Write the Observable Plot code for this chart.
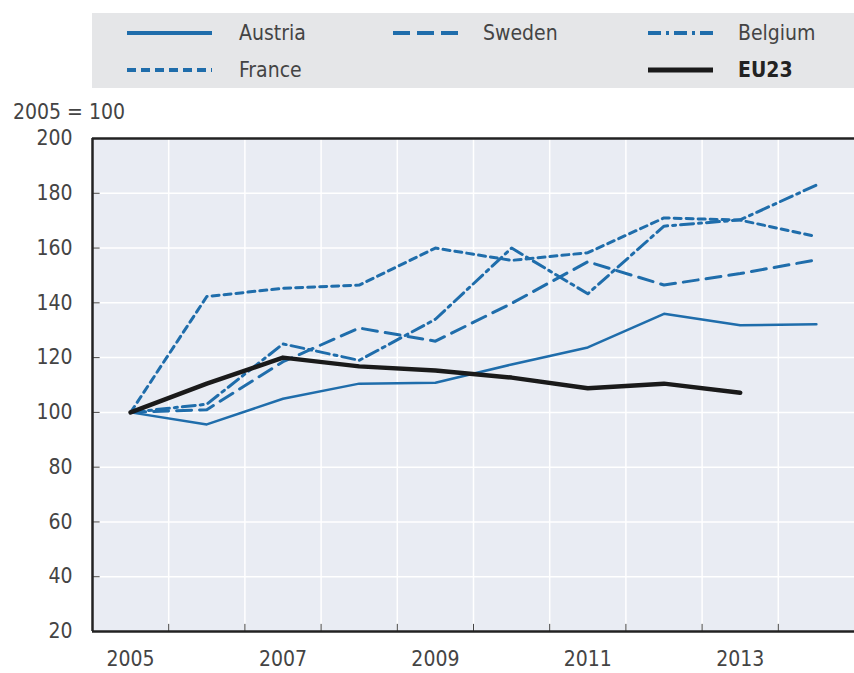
<!DOCTYPE html>
<html>
<head>
<meta charset="utf-8">
<script src="https://cdn.jsdelivr.net/npm/d3@7"></script>
<script src="https://cdn.jsdelivr.net/npm/@observablehq/plot@0.6"></script>
<style>
  html, body { margin: 0; padding: 0; background: #fff; }
  #wrap { position: relative; width: 854px; height: 673px; overflow: hidden;
          font-family: "DejaVu Sans Condensed", "Liberation Sans Narrow", sans-serif; }
  #legend { position: absolute; left: 92px; top: 13px; width: 762px; height: 75px; background: #e5e6e8; }
  .item { position: absolute; display: flex; align-items: center; height: 30px; }
  .item svg { display: block; }
  .item span { font-size: 21px; color: #444; margin-left: 27px; }
  #unit { position: absolute; left: 13px; top: 100px; font-size: 21px; line-height: 24px; color: #444; }
  #chart { position: absolute; left: 0; top: 120px; }
</style>
</head>
<body>
<div id="wrap">
  <div id="legend"></div>
  <div id="unit">2005 = 100</div>
  <div id="chart"></div>
</div>
<script>
const years   = [2005, 2006, 2007, 2008, 2009, 2010, 2011, 2012, 2013, 2014];
const austria = [100, 95.6, 105, 110.5, 110.8, 117.5, 123.7, 136, 131.8, 132.2];
const sweden  = [100, 101, 118.5, 130.8, 126, 139.8, 155, 146.5, 150.7, 155.7];
const belgium = [100, 103, 125, 119, 134, 160, 143.3, 168, 170.3, 183];
const france  = [100, 142.3, 145.3, 146.5, 160, 155.5, 158.3, 171, 170.2, 164.2];
const eu23    = [100, 110.5, 120, 116.8, 115.3, 112.7, 108.8, 110.5, 107.2];

const yTicks = [20, 40, 60, 80, 100, 120, 140, 160, 180, 200];
const xTickLabels = [2005, 2007, 2009, 2011, 2013];

const blue = "#1f6dab";
const series = [
  {name: "Austria", values: austria, stroke: blue, width: 2.5, dash: null},
  {name: "Sweden",  values: sweden,  stroke: blue, width: 3, dash: "15,8"},
  {name: "Belgium", values: belgium, stroke: blue, width: 3, dash: "13,5,3,5"},
  {name: "France",  values: france,  stroke: blue, width: 3, dash: "7,5"},
  {name: "EU23",    values: eu23,    stroke: "#1a1a1a", width: 4.5, dash: null}
];

const toRows = s => s.values.map((v, i) => ({year: years[i], value: v}));
const gridYears = years.slice(0, -1).map(y => y + 0.5);
const xMin = years[0] - 0.5, xMax = years[years.length - 1] + 0.5;

const chart = Plot.plot({
  width: 854,
  height: 553,
  marginTop: 18,
  marginBottom: 42,
  marginLeft: 92,
  marginRight: 0,
  x: {domain: [xMin, xMax]},
  y: {domain: [yTicks[0], yTicks[yTicks.length - 1]]},
  style: {
    fontFamily: '"DejaVu Sans Condensed", "Liberation Sans Narrow", sans-serif',
    fontSize: "21px",
    color: "#444",
    background: "transparent"
  },
  marks: [
    Plot.frame({fill: "#e9ecf3", stroke: null}),
    Plot.ruleX(gridYears, {stroke: "#ffffff", strokeWidth: 1.5}),
    Plot.ruleY(yTicks.slice(1, -1), {stroke: "#ffffff", strokeWidth: 1.5}),
    Plot.ruleY(yTicks.slice(1, -1), {x1: xMin, x2: xMin + 0.1, stroke: "#444", strokeWidth: 1}),
    Plot.ruleX(gridYears, {y1: yTicks[0], y2: yTicks[0] + 2.6, stroke: "#444", strokeWidth: 1}),
    ...series.map(s => Plot.line(toRows(s), {
      x: "year", y: "value",
      stroke: s.stroke, strokeWidth: s.width,
      strokeDasharray: s.dash, strokeLinejoin: "round"
    })),
    Plot.ruleY([yTicks[0], yTicks[yTicks.length - 1]], {stroke: "#222", strokeWidth: 2.5}),
    Plot.ruleX([xMin], {stroke: "#222", strokeWidth: 2.5}),
    Plot.axisY({ticks: yTicks, tickSize: 0, tickPadding: 20, tickFormat: d => String(d), label: null}),
    Plot.axisX({ticks: xTickLabels, tickSize: 0, tickPadding: 20, tickFormat: d => String(d), label: null})
  ]
});
document.getElementById("chart").appendChild(chart);

// Legend
const legendPos = {
  Austria: [35, 5], Sweden: [301, 5], Belgium: [556, 5],
  France: [35, 42], EU23: [556, 42]
};
const legend = document.getElementById("legend");
for (const s of series) {
  const [lx, ly] = legendPos[s.name];
  const div = document.createElement("div");
  div.className = "item";
  div.style.left = lx + "px";
  div.style.top = ly + "px";
  const w = s.name === "Sweden" || s.name === "Belgium" || s.name === "EU23" ? 65 : 85;
  div.innerHTML = `<svg width="${w}" height="10"><line x1="0" x2="${w}" y1="5" y2="5" stroke="${s.stroke}" stroke-width="${s.name === "EU23" ? 5 : 4}" ${s.dash ? `stroke-dasharray="${s.name === "Sweden" ? "17,7" : s.name === "France" ? "9,5" : s.dash}"` : ""}/></svg><span style="${s.name === "EU23" ? "font-weight:bold;color:#222" : ""}">${s.name}</span>`;
  if (w === 65) div.querySelector("span").style.marginLeft = "25px";
  legend.appendChild(div);
}
</script>
</body>
</html>
